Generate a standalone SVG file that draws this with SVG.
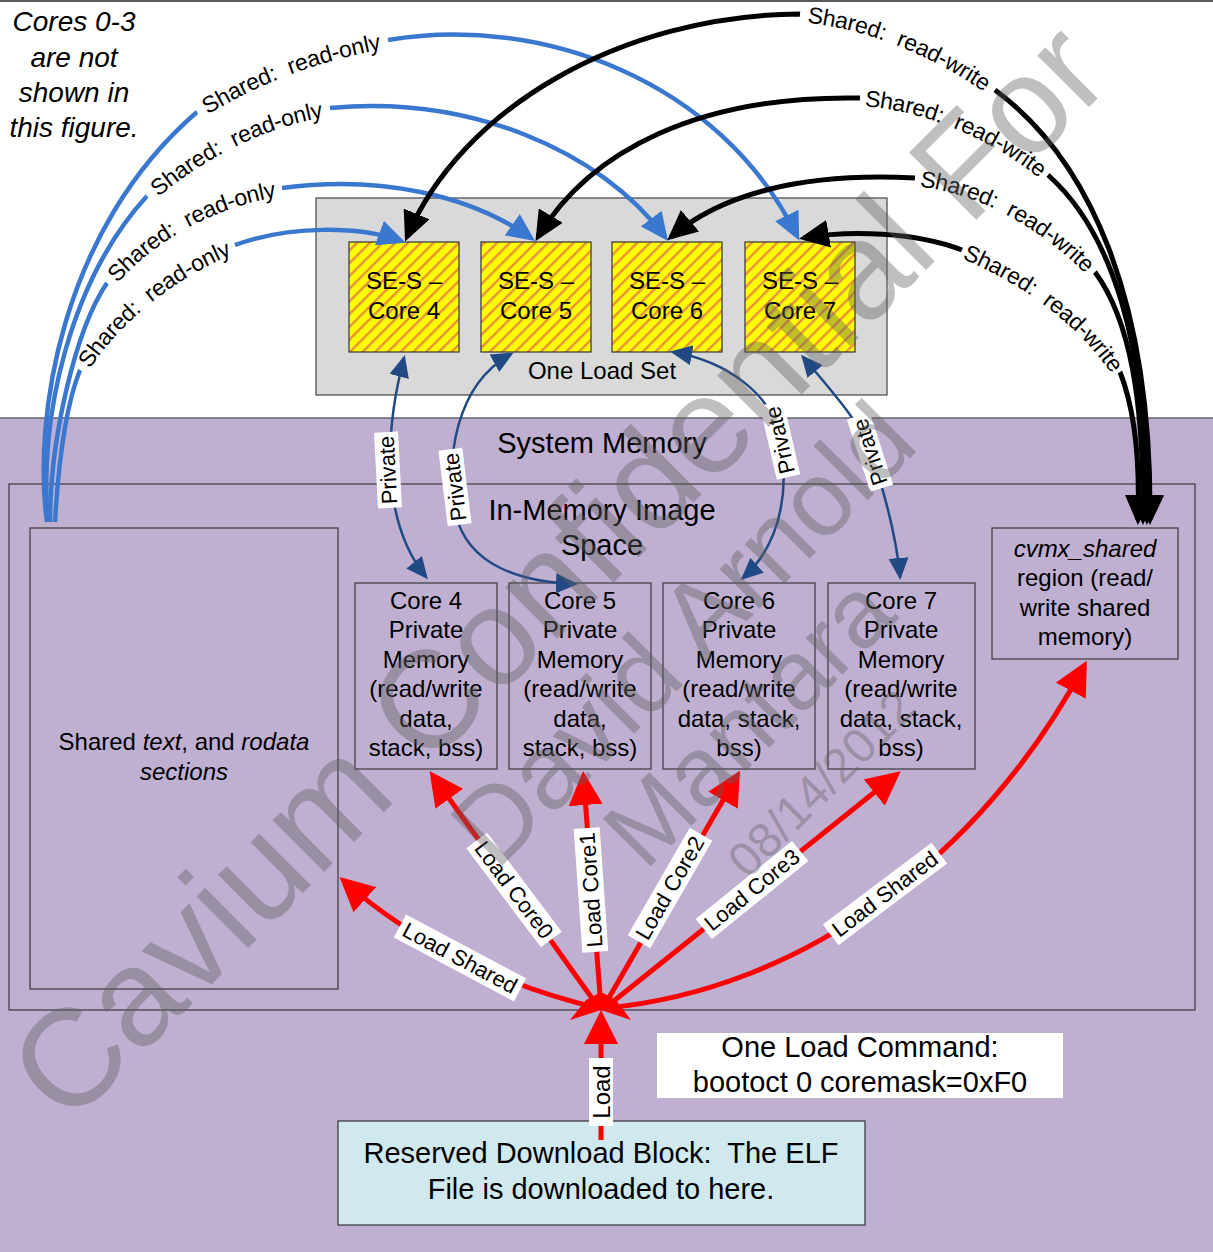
<svg xmlns="http://www.w3.org/2000/svg" xmlns:xlink="http://www.w3.org/1999/xlink" width="1213" height="1252" viewBox="0 0 1213 1252">
  <defs>
    <style>
      .t { font-family: "Liberation Sans", Arial, sans-serif; fill: #000; }
      .c { text-anchor: middle; }
      .s24 { font-size: 24px; }
      .s29 { font-size: 29px; }
      .it { font-style: italic; }
      .frame { fill: none; stroke: #3a3a3a; stroke-width: 1.2; }
      .core { fill: url(#hatch); stroke: #333; stroke-width: 1.2; }
      .ro { fill: none; stroke: #3a78d0; stroke-width: 4.5; marker-end: url(#hBlue); }
      .rw { fill: none; stroke: #000; stroke-width: 5; marker-start: url(#hBlack); marker-end: url(#hBlack); }
      .pv { fill: none; stroke: #214a84; stroke-width: 2.5; marker-start: url(#hDark); marker-end: url(#hDark); }
      .ld { fill: none; stroke: #ff0000; stroke-width: 5; marker-end: url(#hRed); }
      .gap { fill: none; stroke: #fff; stroke-width: 12; }
      .arc { font-family: "Liberation Sans", Arial, sans-serif; font-size: 23px; fill: #000; dominant-baseline: central; }
      .tag rect { fill: #fff; }
      .tag text { font-family: "Liberation Sans", Arial, sans-serif; font-size: 22px; fill: #000; text-anchor: middle; dominant-baseline: central; }
      .wm { font-family: "Liberation Sans", Arial, sans-serif; fill: #606060; fill-opacity: 0.4; }
    </style>
    <pattern id="hatch" patternUnits="userSpaceOnUse" width="9" height="9" patternTransform="rotate(45)">
      <rect width="9" height="9" fill="#ffff00"/>
      <rect x="0" y="0" width="2.4" height="9" fill="#e8903c"/>
    </pattern>
    <marker id="hBlue" markerUnits="userSpaceOnUse" viewBox="0 0 28 26" markerWidth="28" markerHeight="26" refX="23" refY="13" orient="auto">
      <path d="M0,0 L28,13 L0,26 Z" fill="#3a78d0"/>
    </marker>
    <marker id="hBlack" markerUnits="userSpaceOnUse" viewBox="0 0 30 28" markerWidth="30" markerHeight="28" refX="25" refY="14" orient="auto-start-reverse">
      <path d="M0,0 L30,14 L0,28 Z" fill="#000"/>
    </marker>
    <marker id="hDark" markerUnits="userSpaceOnUse" viewBox="0 0 22 20" markerWidth="22" markerHeight="20" refX="19" refY="10" orient="auto-start-reverse">
      <path d="M0,0 L22,10 L0,20 Z" fill="#214a84"/>
    </marker>
    <marker id="hRed" markerUnits="userSpaceOnUse" viewBox="0 0 34 34" markerWidth="34" markerHeight="34" refX="28" refY="17" orient="auto">
      <path d="M0,0 L34,17 L0,34 Z" fill="#ff0000"/>
    </marker>
    <!-- arcs that carry the curved "Shared" labels -->
    <path id="lbu1" d="M197,112 C255,75 320,52 388,40"/>
    <path id="lbu2" d="M147,196 C200,150 265,118 330,108"/>
    <path id="lbu3" d="M107,283 C150,232 215,198 282,188"/>
    <path id="lbu4" d="M80,370 C110,320 170,270 235,245"/>
    <path id="lbk1" d="M800,14 C870,20 940,50 995,90"/>
    <path id="lbk2" d="M860,98 C930,102 1000,135 1048,175"/>
    <path id="lbk3" d="M915,178 C985,185 1050,225 1095,272"/>
    <path id="lbk4" d="M962,250 C1030,278 1085,320 1120,372"/>
  </defs>

  <!-- backgrounds -->
  <rect x="0" y="0" width="1213" height="1252" fill="#ffffff"/>
  <line x1="0" y1="1" x2="1213" y2="1" stroke="#222" stroke-width="1.5"/>
  <rect id="system-memory" x="-2" y="418" width="1217" height="836" fill="#bfafd1" stroke="#666" stroke-width="1.5"/>
  <text class="t c s29" x="602" y="453">System Memory</text>

  <g id="image-space">
    <rect class="frame" x="9" y="484" width="1186" height="526"/>
    <text class="t c s29" x="602" y="520">In-Memory Image</text>
    <text class="t c s29" x="602" y="555">Space</text>
  </g>

  <g id="note">
    <text class="t c it" style="font-size:28px" x="74" y="31">Cores 0-3</text>
    <text class="t c it" style="font-size:28px" x="74" y="67">are not</text>
    <text class="t c it" style="font-size:28px" x="74" y="102">shown in</text>
    <text class="t c it" style="font-size:28px" x="74" y="137">this figure.</text>
  </g>

  <g id="load-set">
    <rect x="316" y="198" width="571" height="197" fill="#d9d9d9" stroke="#444" stroke-width="1.2"/>
    <text class="t c s24" x="602" y="379">One Load Set</text>
  </g>

  <g id="se-core4">
    <rect class="core" x="349" y="242" width="110" height="110"/>
    <text class="t c s24" x="404" y="289">SE-S –</text>
    <text class="t c s24" x="404" y="319">Core 4</text>
  </g>
  <g id="se-core5">
    <rect class="core" x="481" y="242" width="110" height="110"/>
    <text class="t c s24" x="536" y="289">SE-S –</text>
    <text class="t c s24" x="536" y="319">Core 5</text>
  </g>
  <g id="se-core6">
    <rect class="core" x="612" y="242" width="110" height="110"/>
    <text class="t c s24" x="667" y="289">SE-S –</text>
    <text class="t c s24" x="667" y="319">Core 6</text>
  </g>
  <g id="se-core7">
    <rect class="core" x="745" y="242" width="110" height="110"/>
    <text class="t c s24" x="800" y="289">SE-S –</text>
    <text class="t c s24" x="800" y="319">Core 7</text>
  </g>

  <g id="shared-text">
    <rect class="frame" x="30" y="528" width="308" height="461"/>
    <text class="t c s24" x="184" y="750">Shared <tspan class="it">text</tspan>, and <tspan class="it">rodata</tspan></text>
    <text class="t c s24 it" x="184" y="780">sections</text>
  </g>

  <g id="priv-core4">
    <rect class="frame" x="355" y="583" width="142" height="186"/>
    <text class="t c s24" x="426" y="609">Core 4</text>
    <text class="t c s24" x="426" y="638">Private</text>
    <text class="t c s24" x="426" y="668">Memory</text>
    <text class="t c s24" x="426" y="697">(read/write</text>
    <text class="t c s24" x="426" y="727">data,</text>
    <text class="t c s24" x="426" y="756">stack, bss)</text>
  </g>
  <g id="priv-core5">
    <rect class="frame" x="509" y="583" width="142" height="186"/>
    <text class="t c s24" x="580" y="609">Core 5</text>
    <text class="t c s24" x="580" y="638">Private</text>
    <text class="t c s24" x="580" y="668">Memory</text>
    <text class="t c s24" x="580" y="697">(read/write</text>
    <text class="t c s24" x="580" y="727">data,</text>
    <text class="t c s24" x="580" y="756">stack, bss)</text>
  </g>
  <g id="priv-core6">
    <rect class="frame" x="663" y="583" width="152" height="186"/>
    <text class="t c s24" x="739" y="609">Core 6</text>
    <text class="t c s24" x="739" y="638">Private</text>
    <text class="t c s24" x="739" y="668">Memory</text>
    <text class="t c s24" x="739" y="697">(read/write</text>
    <text class="t c s24" x="739" y="727">data, stack,</text>
    <text class="t c s24" x="739" y="756">bss)</text>
  </g>
  <g id="priv-core7">
    <rect class="frame" x="828" y="583" width="147" height="186"/>
    <text class="t c s24" x="901" y="609">Core 7</text>
    <text class="t c s24" x="901" y="638">Private</text>
    <text class="t c s24" x="901" y="668">Memory</text>
    <text class="t c s24" x="901" y="697">(read/write</text>
    <text class="t c s24" x="901" y="727">data, stack,</text>
    <text class="t c s24" x="901" y="756">bss)</text>
  </g>

  <g id="cvmx-shared">
    <rect class="frame" x="992" y="528" width="186" height="131"/>
    <text class="t c s24 it" x="1085" y="557">cvmx_shared</text>
    <text class="t c s24" x="1085" y="586">region (read/</text>
    <text class="t c s24" x="1085" y="616">write shared</text>
    <text class="t c s24" x="1085" y="645">memory)</text>
  </g>

  <g id="load-command">
    <rect x="657" y="1033" width="406" height="65" fill="#ffffff"/>
    <text class="t c s29" x="860" y="1057">One Load Command:</text>
    <text class="t c s29" x="860" y="1092">bootoct 0 coremask=0xF0</text>
  </g>

  <g id="download-block">
    <rect x="338" y="1121" width="527" height="104" fill="#d0e9ef" stroke="#333" stroke-width="1.2"/>
    <text class="t c s29" x="601" y="1163" xml:space="preserve">Reserved Download Block:  The ELF</text>
    <text class="t c s29" x="601" y="1199">File is downloaded to here.</text>
  </g>

  <g id="connectors">
    <!-- read-only sharing, blue -->
    <path class="ro" d="M47,522 C33,420 60,230 197,112 C255,75 320,52 388,40 C540,14 720,80 797,236"/>
    <path class="ro" d="M48,522 C38,420 70,280 147,196 C200,150 265,118 330,108 C470,95 600,150 665,237"/>
    <path class="ro" d="M50,522 C50,440 75,330 107,283 C150,232 215,198 282,188 C380,175 470,195 531,238"/>
    <path class="ro" d="M55,522 C58,470 64,410 80,370 C110,320 170,270 235,245 C290,225 360,226 401,241"/>

    <!-- read-write sharing, black -->
    <path class="rw" d="M407,237 C460,110 620,15 800,14 C870,20 940,50 995,90 C1090,160 1152,300 1150,520"/>
    <path class="rw" d="M538,237 C590,150 700,95 860,98 C930,102 1000,135 1048,175 C1110,230 1148,340 1147,520"/>
    <path class="rw" d="M671,237 C720,195 800,172 915,178 C985,185 1050,225 1095,272 C1130,320 1144,400 1143,520"/>
    <path class="rw" d="M804,238 C850,230 915,232 962,250 C1030,278 1085,320 1120,372 C1135,410 1140,460 1138,520"/>

    <!-- breaks in the lines where the curved labels sit -->
    <use class="gap" xlink:href="#lbu1" href="#lbu1"/>
    <use class="gap" xlink:href="#lbu2" href="#lbu2"/>
    <use class="gap" xlink:href="#lbu3" href="#lbu3"/>
    <use class="gap" xlink:href="#lbu4" href="#lbu4"/>
    <use class="gap" xlink:href="#lbk1" href="#lbk1"/>
    <use class="gap" xlink:href="#lbk2" href="#lbk2"/>
    <use class="gap" xlink:href="#lbk3" href="#lbk3"/>
    <use class="gap" xlink:href="#lbk4" href="#lbk4"/>
    <g class="arc">
      <text><textPath xlink:href="#lbu1" href="#lbu1" startOffset="50%" text-anchor="middle" xml:space="preserve">Shared:  read-only</textPath></text>
      <text><textPath xlink:href="#lbu2" href="#lbu2" startOffset="50%" text-anchor="middle" xml:space="preserve">Shared:  read-only</textPath></text>
      <text><textPath xlink:href="#lbu3" href="#lbu3" startOffset="50%" text-anchor="middle" xml:space="preserve">Shared:  read-only</textPath></text>
      <text><textPath xlink:href="#lbu4" href="#lbu4" startOffset="50%" text-anchor="middle" xml:space="preserve">Shared:  read-only</textPath></text>
      <text><textPath xlink:href="#lbk1" href="#lbk1" startOffset="50%" text-anchor="middle" xml:space="preserve">Shared:  read-write</textPath></text>
      <text><textPath xlink:href="#lbk2" href="#lbk2" startOffset="50%" text-anchor="middle" xml:space="preserve">Shared:  read-write</textPath></text>
      <text><textPath xlink:href="#lbk3" href="#lbk3" startOffset="50%" text-anchor="middle" xml:space="preserve">Shared:  read-write</textPath></text>
      <text><textPath xlink:href="#lbk4" href="#lbk4" startOffset="50%" text-anchor="middle" xml:space="preserve">Shared:  read-write</textPath></text>
    </g>

    <!-- private links, dark blue -->
    <path class="pv" d="M404,358 C385,430 380,520 426,577"/>
    <path class="pv" d="M511,354 C455,385 445,460 456,515 C468,565 520,582 575,584"/>
    <path class="pv" d="M673,352 C730,362 768,395 778,430 C790,480 785,540 743,578"/>
    <path class="pv" d="M803,357 C835,395 862,425 872,455 C885,495 897,540 900,577"/>
    <g class="tag" transform="translate(388,470) rotate(-93)"><rect x="-38" y="-12" width="76" height="24"/><text>Private</text></g>
    <g class="tag" transform="translate(455,487) rotate(-97)"><rect x="-38" y="-12" width="76" height="24"/><text>Private</text></g>
    <g class="tag" transform="translate(780,440) rotate(-103)"><rect x="-38" y="-12" width="76" height="24"/><text>Private</text></g>
    <g class="tag" transform="translate(870,452) rotate(-108)"><rect x="-38" y="-12" width="76" height="24"/><text>Private</text></g>

    <!-- one load command fans out, red -->
    <path class="ld" d="M601,1140 L601,1016"/>
    <path class="ld" d="M598,1008 C500,985 410,940 344,881"/>
    <path class="ld" d="M599,1008 L433,776"/>
    <path class="ld" d="M601,1008 L583.5,777"/>
    <path class="ld" d="M603,1008 L737,776"/>
    <path class="ld" d="M605,1008 L896,775"/>
    <path class="ld" d="M606,1008 C800,990 980,860 1084,666"/>
    <polygon points="570,1020 586,1000 601,992 616,1000 631,1020 601,1010" fill="#ff0000"/>
    <g class="tag" transform="translate(601,1092) rotate(-90)"><rect x="-34" y="-12" width="68" height="24"/><text style="font-size:24px">Load</text></g>
    <g class="tag" transform="translate(460,958) rotate(28)"><rect x="-68" y="-13" width="136" height="26"/><text>Load Shared</text></g>
    <g class="tag" transform="translate(514,890) rotate(53)"><rect x="-62" y="-13" width="124" height="26"/><text>Load Core0</text></g>
    <g class="tag" transform="translate(591,890) rotate(-94)"><rect x="-62" y="-13" width="124" height="26"/><text>Load Core1</text></g>
    <g class="tag" transform="translate(670,888) rotate(-60)"><rect x="-62" y="-13" width="124" height="26"/><text>Load Core2</text></g>
    <g class="tag" transform="translate(752,890) rotate(-39)"><rect x="-62" y="-13" width="124" height="26"/><text>Load Core3</text></g>
    <g class="tag" transform="translate(885,894) rotate(-37)"><rect x="-68" y="-13" width="136" height="26"/><text>Load Shared</text></g>
  </g>

  <!-- diagonal confidentiality stamp -->
  <g id="stamp">
    <text class="wm" style="font-size:138px" transform="translate(68,1128) rotate(-45)">Cavium Confidential For</text>
    <text class="wm" style="font-size:106px" transform="translate(496,872) rotate(-45)">David Arnold</text>
    <text class="wm" style="font-size:98px" transform="translate(645,872) rotate(-45)">Mantara</text>
    <text class="wm" style="font-size:48px" transform="translate(748,880) rotate(-45)">08/14/2012</text>
  </g>
</svg>
